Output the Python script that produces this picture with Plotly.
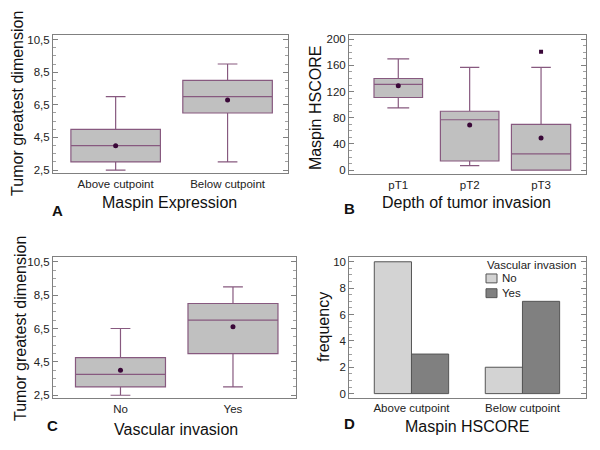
import plotly.graph_objects as go

# ---- data ----
# A: tumour size by maspin expression
a_labels = ["Above cutpoint", "Below cutpoint"]
a_q1 = [3.0, 6.0]
a_med = [4.0, 7.0]
a_q3 = [5.0, 8.0]
a_lo = [2.5, 3.0]
a_hi = [7.0, 9.0]
a_mean = [4.0, 6.8]

# B: HSCORE by depth of invasion
b_labels = ["pT1", "pT2", "pT3"]
b_q1 = [111, 14, 0]
b_med = [131, 77, 25]
b_q3 = [140, 90, 70]
b_lo = [95, 7, 0]
b_hi = [170, 157, 157]
b_mean = [129, 69, 49]
b_out_x = [2]
b_out_y = [181]

# C: tumour size by vascular invasion
c_labels = ["No", "Yes"]
c_q1 = [3.0, 5.0]
c_med = [3.75, 7.0]
c_q3 = [4.75, 8.0]
c_lo = [2.5, 3.0]
c_hi = [6.5, 9.0]
c_mean = [4.0, 6.6]

# D: frequency by HSCORE group
d_labels = ["Above cutpoint", "Below cutpoint"]
d_groups = ["No", "Yes"]
d_no = [10, 2]
d_yes = [3, 7]

FONT = "Arial, Liberation Sans, sans-serif"
BOX_LINE = "#87597f"
BOX_FILL = "#c0c0c0"
MEAN_COL = "#3a0838"
FRAME = "#808080"
NO_COL = "#d3d3d3"
YES_COL = "#808080"
BAR_EDGE = "#555555"

fig = go.Figure()


def add_boxes(xa, ya, q1, med, q3, lo, hi, mean, widths, caps):
    for i in range(len(q1)):
        fig.add_trace(go.Box(
            x=[i], q1=[q1[i]], median=[med[i]], q3=[q3[i]],
            lowerfence=[lo[i]], upperfence=[hi[i]],
            width=widths[i], whiskerwidth=caps[i],
            fillcolor=BOX_FILL, line=dict(color=BOX_LINE, width=1.2),
            boxpoints=False, showlegend=False, hoverinfo="skip",
            xaxis=xa, yaxis=ya,
        ))
    # mean dots
    fig.add_trace(go.Scatter(
        x=list(range(len(mean))), y=mean, mode="markers",
        marker=dict(color=MEAN_COL, size=5), showlegend=False,
        xaxis=xa, yaxis=ya,
    ))


add_boxes("x", "y", a_q1, a_med, a_q3, a_lo, a_hi, a_mean, [0.8, 0.8], [0.22, 0.22])
add_boxes("x2", "y2", b_q1, b_med, b_q3, b_lo, b_hi, b_mean, [0.68, 0.82, 0.83], [0.45, 0.33, 0.33])
fig.add_trace(go.Scatter(
    x=b_out_x, y=b_out_y, mode="markers",
    marker=dict(color=MEAN_COL, size=4, symbol="square"), showlegend=False,
    xaxis="x2", yaxis="y2",
))
add_boxes("x3", "y3", c_q1, c_med, c_q3, c_lo, c_hi, c_mean, [0.8, 0.8], [0.22, 0.22])

# D bars
fig.add_trace(go.Bar(x=[0, 1], y=d_no, name=d_groups[0], showlegend=False,
                     marker=dict(color=NO_COL, line=dict(color=BAR_EDGE, width=1)),
                     xaxis="x4", yaxis="y4"))
fig.add_trace(go.Bar(x=[0, 1], y=d_yes, name=d_groups[1], showlegend=False,
                     marker=dict(color=YES_COL, line=dict(color=BAR_EDGE, width=1)),
                     xaxis="x4", yaxis="y4"))

tickfont = dict(family=FONT, size=11.5, color="#222222")


def xax(domain, rng, labels, anchor):
    return dict(domain=domain, range=rng, anchor=anchor, tickvals=list(range(len(labels))), ticktext=labels,
                showline=True, mirror=True, linecolor=FRAME, linewidth=1, ticks="", showgrid=False,
                zeroline=False, tickfont=tickfont, fixedrange=True)


def yax(domain, rng, tick0, dtick, minor, anchor):
    return dict(domain=domain, range=rng, anchor=anchor, tick0=tick0, dtick=dtick,
                showline=True, mirror="allticks", linecolor=FRAME, linewidth=1,
                ticks="inside", ticklen=5, tickcolor=FRAME,
                minor=dict(tick0=tick0, dtick=minor, ticks="inside", ticklen=3, tickcolor="#a0a0a0"),
                showgrid=False, zeroline=False, tickfont=tickfont, fixedrange=True)


fig.update_layout(
    xaxis=xax([0.0883, 0.48], [-0.56, 1.54], a_labels, "y"),
    yaxis=yax([0.6156, 0.9267], [2.32, 10.8], 2.5, 2, 0.5, "x"),
    xaxis2=xax([0.5817, 0.9767], [-0.69, 2.63], b_labels, "y2"),
    yaxis2=yax([0.6133, 0.9267], [-6, 207], 0, 40, 10, "x2"),
    xaxis3=xax([0.0883, 0.4933], [-0.60, 1.56], c_labels, "y3"),
    yaxis3=yax([0.1096, 0.4267], [2.32, 10.78], 2.5, 2, 0.5, "x3"),
    xaxis4=xax([0.5822, 0.9762], [-0.56, 1.57], d_labels, "y4"),
    yaxis4=yax([0.1111, 0.426], [-0.3, 10.33], 0, 2, 0.5, "x4"),
    barmode="group", bargap=0.33, bargroupgap=0,
    separators=",.",
    showlegend=False,
    width=600, height=450,
    margin=dict(l=0, r=0, t=0, b=0),
    paper_bgcolor="white", plot_bgcolor="white",
    font=dict(family=FONT, color="#111111"),
)

# legend for panel D (title, swatches, labels in one block)
legfont = dict(family=FONT, size=11.5, color="#222222")
fig.add_annotation(text="Vascular invasion", x=0.808, y=0.409, xref="paper", yref="paper",
                   showarrow=False, xanchor="left", yanchor="middle", font=legfont)
line_h = 11.5 * 1.3
mid = 287.0
for k, col in enumerate([NO_COL, YES_COL]):
    yc = mid + (k - 0.5) * line_h
    fig.add_shape(type="rect", xref="paper", yref="paper",
                  x0=486 / 600, x1=497 / 600, y0=1 - (yc + 4.5) / 450, y1=1 - (yc - 4.5) / 450,
                  fillcolor=col, line=dict(color=BAR_EDGE, width=1))
fig.add_annotation(text="<br>".join(d_groups), x=499.5 / 600, y=1 - mid / 450, xref="paper", yref="paper",
                   showarrow=False, xanchor="left", yanchor="middle", align="left", font=legfont)

# axis titles and panel letters
titles = [
    ("Maspin Expression", 0.283, 0.549, 0),
    ("Tumor greatest dimension", 0.030, 0.771, -90),
    ("Depth of tumor invasion", 0.778, 0.549, 0),
    ("Maspin HSCORE", 0.527, 0.762, -90),
    ("Vascular invasion", 0.293, 0.040, 0),
    ("Tumor greatest dimension", 0.033, 0.267, -90),
    ("Maspin HSCORE", 0.778, 0.047, 0),
    ("frequency", 0.538, 0.269, -90),
]
for text, x, y, ang in titles:
    fig.add_annotation(text=text, x=x, y=y, xref="paper", yref="paper", showarrow=False,
                       textangle=ang, font=dict(family=FONT, size=16, color="#111111"),
                       xanchor="center", yanchor="middle")

letters = [("A", 0.095, 0.531), ("B", 0.583, 0.536), ("C", 0.088, 0.049), ("D", 0.582, 0.053)]
for text, x, y in letters:
    fig.add_annotation(text="<b>%s</b>" % text, x=x, y=y, xref="paper", yref="paper", showarrow=False,
                       font=dict(family=FONT, size=15, color="#111111"), xanchor="center", yanchor="middle")

# the page's default body margin would push the 600x450 figure off the window
fig.write_html("out.html", config={"displayModeBar": False},
               post_script="document.body.style.margin = '0';")
